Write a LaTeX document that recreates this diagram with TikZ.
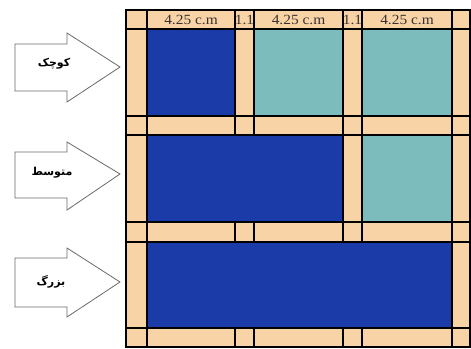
\documentclass[tikz,border=0pt]{standalone}
\usepackage{fontspec}
\setmainfont{Liberation Serif}
\newfontfamily\arabicfont[Script=Arabic]{DejaVu Sans}
\TeXXeTstate=1
\definecolor{peach}{HTML}{F8D3A5}
\definecolor{pblue}{HTML}{1B3BA8}
\definecolor{pteal}{HTML}{7DBCBC}
\definecolor{ptext}{HTML}{3A3030}
\definecolor{arrowline}{HTML}{6A6A6A}
\begin{document}
\begin{tikzpicture}[x=1pt,y=-1pt,
  cellbox/.style={draw=black, line width=1.3pt},
  hdr/.style={font=\fontsize{14}{14}\selectfont, text=ptext, inner sep=0pt, xscale=1.1},
  bigarrow/.style={draw=arrowline, fill=white, line width=0.8pt, line join=miter},
  fa/.style={font=\arabicfont\bfseries\fontsize{11}{11}\selectfont, inner sep=0pt}]
\useasboundingbox (0,0) rectangle (471,348);
% strip rows
\foreach \ya/\yb in {10/29,116/135,222/242,328/347}{
  \foreach \xa/\xb in {126/147,147/235,235/254,254/343,343/362,362/452,452/470}{
    \path[cellbox, fill=peach] (\xa,\ya) rectangle (\xb,\yb);
  }
}
% side columns of content rows
\foreach \ya/\yb in {29/116,135/222,242/328}{
  \path[cellbox, fill=peach] (126,\ya) rectangle (147,\yb);
  \path[cellbox, fill=peach] (452,\ya) rectangle (470,\yb);
}
% row 1
\path[cellbox, fill=pblue] (147,29) rectangle (235,116);
\path[cellbox, fill=peach] (235,29) rectangle (254,116);
\path[cellbox, fill=pteal] (254,29) rectangle (343,116);
\path[cellbox, fill=peach] (343,29) rectangle (362,116);
\path[cellbox, fill=pteal] (362,29) rectangle (452,116);
% row 2
\path[cellbox, fill=pblue] (147,135) rectangle (343,222);
\path[cellbox, fill=peach] (343,135) rectangle (362,222);
\path[cellbox, fill=pteal] (362,135) rectangle (452,222);
% row 3
\path[cellbox, fill=pblue] (147,242) rectangle (452,328);
% outer frame
\draw[line width=1.3pt] (126,10) rectangle (470,347);
% header labels
\node[hdr] (h1) at (191,19.5) {4.25 c.m};
\node[hdr] (g1) at (244.5,19.5) {1.1};
\node[hdr] (h2) at (298.5,19.5) {4.25 c.m};
\node[hdr] (g2) at (352.5,19.5) {1.1};
\node[hdr] (h3) at (407,19.5) {4.25 c.m};
% arrows
\draw[bigarrow] (15,44) -- (67,44) -- (67,33) -- (120,67) -- (67,102) -- (67,91) -- (15,91) -- cycle;
\draw[bigarrow] (15,152) -- (67,152) -- (67,142) -- (120,174) -- (67,210) -- (67,198) -- (15,198) -- cycle;
\draw[bigarrow] (15,258) -- (67,258) -- (67,248) -- (120,282) -- (67,317) -- (67,307) -- (15,307) -- cycle;
\node[fa] (small) at (54,64) {\beginR کوچک\endR};
\node[fa] (medium) at (52,173) {\beginR متوسط\endR};
\node[fa] (large) at (51,282) {\beginR بزرگ\endR};
\end{tikzpicture}
\end{document}
